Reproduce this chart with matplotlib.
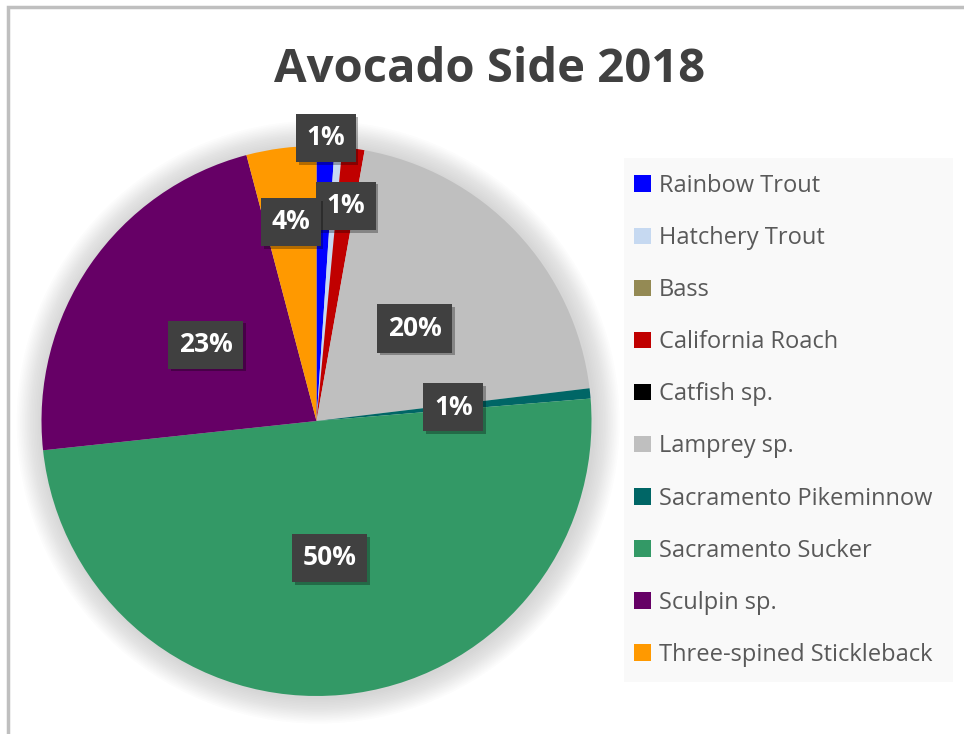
import numpy as np
import matplotlib.pyplot as plt
from matplotlib.patches import Circle, Rectangle
import matplotlib.patheffects as pe

plt.rcParams['font.family'] = ['Open Sans', 'DejaVu Sans']

# Share of catch per species (percent)
species = ['Rainbow Trout', 'Hatchery Trout', 'Bass', 'California Roach', 'Catfish sp.',
           'Lamprey sp.', 'Sacramento Pikeminnow', 'Sacramento Sucker', 'Sculpin sp.',
           'Three-spined Stickleback']
share = [1.05, 0.45, 0.0, 1.3, 0.0, 20.3, 0.6, 49.6, 22.6, 4.1]
colors = ['#0000FF', '#C6D9F1', '#948A54', '#C00000', '#000000',
          '#BFBFBF', '#006666', '#339966', '#660066', '#FF9900']

# radial position of each data label (fraction of radius)
label_dist = [1.03, 0.5, 0.5, 0.79, 0.5, 0.49, 0.5, 0.5, 0.49, 0.73]

W, H = 964, 734
fig = plt.figure(figsize=(W / 100, H / 100), dpi=100)
fig.patch.set_facecolor('white')

# chart frame (top and left edges visible)
fig.patches.append(Rectangle((8 / W, -0.05), 1.1, (H - 7) / H + 0.05,
                             transform=fig.transFigure, fill=False,
                             edgecolor='#BFBFBF', linewidth=2.5))

cx, cy, r = 316.5, 421, 275
ax = fig.add_axes([(cx - r) / W, (H - cy - r) / H, 2 * r / W, 2 * r / H])

# soft glow around the pie
for k in range(16):
    ax.add_patch(Circle((0.006, -0.004), 1.0 + 0.006 * (16 - k), color='#7F7F7F',
                        alpha=0.02, linewidth=0, zorder=0, clip_on=False))

wedges, _ = ax.pie(share, colors=colors, startangle=90, counterclock=False,
                   radius=1.0, wedgeprops=dict(linewidth=0))
for w in wedges:
    w.set_zorder(2)

ax.set_xlim(-1, 1)
ax.set_ylim(-1, 1)
ax.set_aspect('equal')
ax.axis('off')

box_shadow = [pe.SimplePatchShadow(offset=(2, -2), shadow_rgbFace='#000000', alpha=0.3),
              pe.Normal()]

for w, v, d in zip(wedges, share, label_dist):
    if round(v) == 0:
        continue
    ang = np.deg2rad((w.theta1 + w.theta2) / 2)
    x, y = d * np.cos(ang), d * np.sin(ang)
    t = ax.text(x, y, f'{round(v)}%', ha='center', va='center', color='white',
                fontsize=19, fontweight='bold', zorder=5,
                bbox=dict(boxstyle='square,pad=0.4', facecolor='#404040',
                          edgecolor='none'))
    t.get_bbox_patch().set_path_effects(box_shadow)

fig.text(490 / W, 1 - 69 / H, 'Avocado Side 2018', ha='center', va='center',
         fontsize=34, fontweight='bold', color='#404040')

# legend panel
fig.patches.append(Rectangle((624 / W, 1 - 682 / H), 329 / W, 524 / H,
                             transform=fig.transFigure, facecolor='#F9F9F9',
                             edgecolor='none', zorder=0))
handles = [Rectangle((0, 0), 1, 1, facecolor=c, edgecolor='none') for c in colors]
leg = fig.legend(handles, species, loc='upper left',
                 bbox_to_anchor=(634 / W, 1 - 174 / H), frameon=False,
                 fontsize=17, labelcolor='#595959', handlelength=0.7,
                 handleheight=0.7, handletextpad=0.35, labelspacing=1.19,
                 borderaxespad=0, borderpad=0)

fig.savefig('out.png', dpi=100, facecolor='white')
